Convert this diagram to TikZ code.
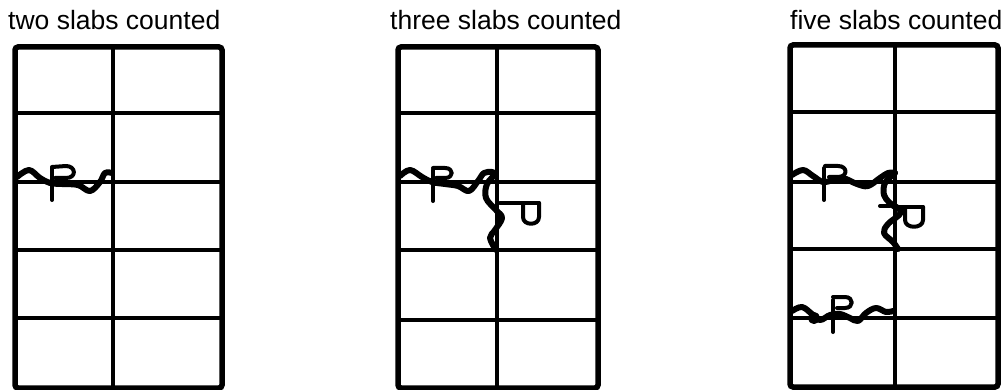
\documentclass[tikz,border=0pt]{standalone}
\usepackage{fontspec}
\setmainfont{Liberation Sans}
\begin{document}
\begin{tikzpicture}[x=1pt,y=-1pt,
  title/.style={anchor=base west,inner sep=0pt,font=\fontsize{26.5}{30}\selectfont},
  frame/.style={line width=5.5pt,rounded corners=3pt},
  joint/.style={line width=4.5pt},
  crack/.style={line width=6pt,line cap=round,line join=round},
  pmark/.style={line width=4pt,line cap=round,line join=round}]
\useasboundingbox (0,0) rectangle (1003,390);
\fill[white] (0,0) rectangle (1003,390);
% titles
\node[title] (t1) at (8,30) {two slabs counted};
\node[title] (t2) at (390,30) {three slabs counted};
\node[title] (t3) at (790,30) {five slabs counted};
% grid 1
\draw[frame] (15,47) rectangle (222,388);
\draw[joint] (113,47) -- (113,388);
\foreach \y in {113,182,250,318} \draw[joint] (15,\y) -- (222,\y);
% grid 2
\draw[frame] (398,47) rectangle (598,388);
\draw[joint] (497,47) -- (497,388);
\foreach \y in {113,182,250,320} \draw[joint] (398,\y) -- (598,\y);
% grid 3
\draw[frame] (790,45) rectangle (998,387);
\draw[joint] (895,45) -- (895,387);
\foreach \y in {112,182,249,318} \draw[joint] (790,\y) -- (998,\y);
% crack grid 1
\draw[crack] plot[smooth,tension=0.6] coordinates {(17,177) (29,170) (40,178) (50,183) (62,184) (78,185) (90,191) (100,182) (105,173) (112,173)};
\draw[pmark] (52,168) -- (52,200);
\draw[pmark] (52,167) -- (66,166) .. controls (76,166) and (77,178) .. (66,178) -- (55,178);
% crack grid 2
\draw[crack] plot[smooth,tension=0.6] coordinates {(400,176) (410,170) (422,177) (432,182) (445,184) (458,186) (469,191) (478,181) (484,173) (492,172) (496,174)};
\draw[crack] plot[smooth,tension=0.6] coordinates {(496,174) (487,184) (486,198) (496,210) (502,218) (495,230) (490,238) (496,250)};
\draw[pmark] (433,170) -- (433,201);
\draw[pmark] (433,168) -- (445,168) .. controls (454,168) and (454,178) .. (445,178) -- (436,178);
\draw[pmark] (500,203) -- (539,203);
\draw[pmark] (523,203) -- (523,217) .. controls (523,226) and (539,226) .. (539,217) -- (539,203);
% crack grid 3, upper
\draw[crack] plot[smooth,tension=0.6] coordinates {(792,175) (803,170) (813,176) (823,182) (833,180) (843,178) (857,184) (868,186) (880,178) (888,173) (895,173)};
\draw[crack] plot[smooth,tension=0.6] coordinates {(895,173) (885,183) (884,195) (890,203) (901,212) (888,224) (884,233) (893,242) (898,249)};
\draw[pmark] (880,206) -- (890,206);
\draw[pmark] (824,168) -- (824,200);
\draw[pmark] (825,166) -- (838,166) .. controls (848,166) and (848,177) .. (838,177) -- (829,177);
\draw[pmark] (893,207) -- (923,207);
\draw[pmark] (905,207) -- (905,220) .. controls (905,229) and (923,229) .. (923,220) -- (923,207);
% crack grid 3, lower
\draw[crack] plot[smooth,tension=0.6] coordinates {(792,311) (802,307) (812,314) (820,320) (830,315) (840,314) (850,318) (858,321) (866,313) (876,308) (886,312) (893,311)};
\draw[pmark] (814,318) circle (4);
\draw[pmark] (833,300) -- (833,332);
\draw[pmark] (833,297) -- (845,297) .. controls (854,297) and (854,308) .. (845,308) -- (837,308);
\end{tikzpicture}
\end{document}
